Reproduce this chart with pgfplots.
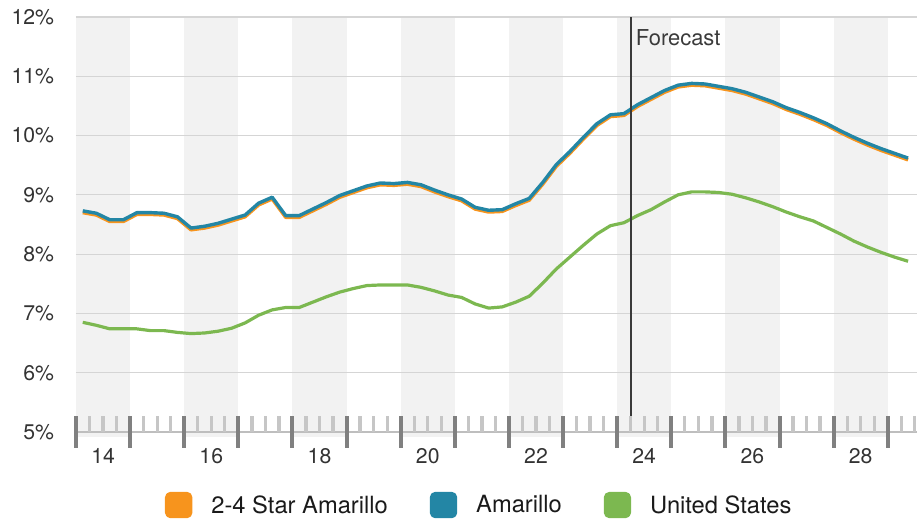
\documentclass[border=0pt]{standalone}
\usepackage{pgfplots}
\pgfplotsset{compat=1.18}
\usepackage{fontspec}
\setmainfont{TeX Gyre Heros}
\definecolor{corange}{HTML}{F7941D}
\definecolor{cblue}{HTML}{2386A5}
\definecolor{cgreen}{HTML}{7CB850}
\definecolor{band}{HTML}{F2F2F2}
\definecolor{gridc}{HTML}{D5D5D5}
\definecolor{basec}{HTML}{BEBEBE}
\definecolor{minc}{HTML}{C6C6C6}
\definecolor{majc}{HTML}{808080}
\definecolor{fcc}{HTML}{3A3A3A}
\definecolor{tickc}{HTML}{333333}
\definecolor{legc}{HTML}{1A1A1A}
\begin{document}
\begin{tikzpicture}
\begin{axis}[
  scale only axis, width=841bp, height=415bp,
  xmin=2014, xmax=2029.54, ymin=5, ymax=12,
  clip=false,
  axis line style={draw=none},
  major tick length=0pt, minor tick length=0pt,
  xtick={2014.5,2016.5,2018.5,2020.5,2022.5,2024.5,2026.5,2028.5},
  xticklabels={14,16,18,20,22,24,26,28},
  ytick={5,6,7,8,9,10,11,12},
  yticklabels={5\%,6\%,7\%,8\%,9\%,10\%,11\%,12\%},
  /pgf/number format/assume math mode=true,
  ticklabel style={font=\fontsize{21.3}{24}\selectfont, text=tickc, inner sep=0pt},
  xticklabel style={anchor=north, yshift=-16bp},
  yticklabel style={anchor=east, xshift=-21.7bp},
  legend style={at={(axis description cs:0.1058,-0.176)}, anchor=west,
    draw=none, fill=none, inner sep=0pt, outer sep=0pt,
    font=\fontsize{23.8}{27}\selectfont, text=legc,
    nodes={inner sep=0pt},
    /tikz/every odd column/.append style={column sep=19bp},
    /tikz/every even column/.append style={column sep=42bp}},
  legend columns=3,
  legend image code/.code={\fill[#1, rounded corners=4bp] (0bp,-11.5bp) rectangle (24bp,11.5bp);},
]
% background bands
\fill[band] (axis cs:2014,4.915) rectangle (axis cs:2015,12);
\fill[band] (axis cs:2016,4.915) rectangle (axis cs:2017,12);
\fill[band] (axis cs:2018,4.915) rectangle (axis cs:2019,12);
\fill[band] (axis cs:2020,4.915) rectangle (axis cs:2021,12);
\fill[band] (axis cs:2022,4.915) rectangle (axis cs:2023,12);
\fill[band] (axis cs:2024,4.915) rectangle (axis cs:2025,12);
\fill[band] (axis cs:2026,4.915) rectangle (axis cs:2027,12);
\fill[band] (axis cs:2028,4.915) rectangle (axis cs:2029,12);
% grid lines
\pgfplotsinvokeforeach{6,7,8,9,10,11,12}{
  \draw[gridc, line width=1.2bp] (axis cs:2014,#1) -- (axis cs:2029.54,#1);
}
\draw[basec, line width=1.2bp] (axis cs:2014,5) -- (axis cs:2029.54,5);
% minor ticks (quarters)
\pgfplotsinvokeforeach{2014.25,2014.5,2014.75,2015.25,2015.5,2015.75,2016.25,2016.5,2016.75,2017.25,2017.5,2017.75,2018.25,2018.5,2018.75,2019.25,2019.5,2019.75,2020.25,2020.5,2020.75,2021.25,2021.5,2021.75,2022.25,2022.5,2022.75,2023.25,2023.5,2023.75,2024.25,2024.5,2024.75,2025.25,2025.5,2025.75,2026.25,2026.5,2026.75,2027.25,2027.5,2027.75,2028.25,2028.5,2028.75,2029.25,2029.5}{
  \draw[minc, line width=3.3bp] (axis cs:#1,5.2696) -- (axis cs:#1,5);
}
% major ticks (years)
\pgfplotsinvokeforeach{2014,2015,2016,2017,2018,2019,2020,2021,2022,2023,2024,2025,2026,2027,2028,2029}{
  \draw[majc, line width=4bp] (axis cs:#1,5.2696) -- (axis cs:#1,4.7304);
}

\addplot[corange, line width=3.4bp, line join=round] coordinates {
(2014.125,8.70)(2014.375,8.66)(2014.625,8.55)(2014.875,8.55)
(2015.125,8.67)(2015.375,8.67)(2015.625,8.66)(2015.875,8.60)
(2016.125,8.41)(2016.375,8.44)(2016.625,8.49)(2016.875,8.56)
(2017.125,8.63)(2017.375,8.83)(2017.625,8.93)(2017.875,8.62)
(2018.125,8.62)(2018.375,8.73)(2018.625,8.84)(2018.875,8.96)
(2019.125,9.04)(2019.375,9.12)(2019.625,9.17)(2019.875,9.16)
(2020.125,9.18)(2020.375,9.14)(2020.625,9.05)(2020.875,8.97)
(2021.125,8.90)(2021.375,8.76)(2021.625,8.71)(2021.875,8.72)
(2022.125,8.82)(2022.375,8.91)(2022.625,9.18)(2022.875,9.48)
(2023.125,9.70)(2023.375,9.94)(2023.625,10.17)(2023.875,10.32)
(2024.125,10.34)(2024.375,10.49)(2024.625,10.61)(2024.875,10.73)
(2025.125,10.82)(2025.375,10.85)(2025.625,10.84)(2025.875,10.80)
(2026.125,10.76)(2026.375,10.70)(2026.625,10.62)(2026.875,10.54)
(2027.125,10.44)(2027.375,10.36)(2027.625,10.27)(2027.875,10.17)
(2028.125,10.05)(2028.375,9.94)(2028.625,9.84)(2028.875,9.75)
(2029.125,9.67)(2029.375,9.59)
};
\addlegendentry{2-4 Star Amarillo}
\addplot[cblue, line width=3.4bp, line join=round] coordinates {
(2014.125,8.73)(2014.375,8.69)(2014.625,8.58)(2014.875,8.58)
(2015.125,8.70)(2015.375,8.70)(2015.625,8.69)(2015.875,8.63)
(2016.125,8.44)(2016.375,8.47)(2016.625,8.52)(2016.875,8.59)
(2017.125,8.66)(2017.375,8.86)(2017.625,8.96)(2017.875,8.65)
(2018.125,8.65)(2018.375,8.76)(2018.625,8.87)(2018.875,8.99)
(2019.125,9.07)(2019.375,9.15)(2019.625,9.20)(2019.875,9.19)
(2020.125,9.21)(2020.375,9.17)(2020.625,9.08)(2020.875,9.00)
(2021.125,8.93)(2021.375,8.79)(2021.625,8.74)(2021.875,8.75)
(2022.125,8.85)(2022.375,8.94)(2022.625,9.21)(2022.875,9.51)
(2023.125,9.73)(2023.375,9.97)(2023.625,10.20)(2023.875,10.35)
(2024.125,10.37)(2024.375,10.52)(2024.625,10.64)(2024.875,10.76)
(2025.125,10.85)(2025.375,10.88)(2025.625,10.87)(2025.875,10.83)
(2026.125,10.79)(2026.375,10.73)(2026.625,10.65)(2026.875,10.57)
(2027.125,10.47)(2027.375,10.39)(2027.625,10.30)(2027.875,10.20)
(2028.125,10.08)(2028.375,9.97)(2028.625,9.87)(2028.875,9.78)
(2029.125,9.70)(2029.375,9.62)
};
\addlegendentry{Amarillo}
\addplot[cgreen, line width=3.2bp, line join=round] coordinates {
(2014.125,6.85)(2014.375,6.80)(2014.625,6.74)(2014.875,6.74)
(2015.125,6.74)(2015.375,6.71)(2015.625,6.71)(2015.875,6.68)
(2016.125,6.66)(2016.375,6.67)(2016.625,6.70)(2016.875,6.75)
(2017.125,6.84)(2017.375,6.97)(2017.625,7.06)(2017.875,7.10)
(2018.125,7.10)(2018.375,7.19)(2018.625,7.28)(2018.875,7.36)
(2019.125,7.42)(2019.375,7.47)(2019.625,7.48)(2019.875,7.48)
(2020.125,7.48)(2020.375,7.44)(2020.625,7.38)(2020.875,7.31)
(2021.125,7.27)(2021.375,7.16)(2021.625,7.09)(2021.875,7.11)
(2022.125,7.19)(2022.375,7.29)(2022.625,7.51)(2022.875,7.75)
(2023.125,7.95)(2023.375,8.15)(2023.625,8.34)(2023.875,8.48)
(2024.125,8.53)(2024.375,8.65)(2024.625,8.75)(2024.875,8.88)
(2025.125,9.00)(2025.375,9.05)(2025.625,9.05)(2025.875,9.04)
(2026.125,9.01)(2026.375,8.95)(2026.625,8.88)(2026.875,8.80)
(2027.125,8.71)(2027.375,8.63)(2027.625,8.56)(2027.875,8.45)
(2028.125,8.34)(2028.375,8.22)(2028.625,8.12)(2028.875,8.03)
(2029.125,7.95)(2029.375,7.88)
};
\addlegendentry{United States}
% forecast marker
\draw[fcc, line width=2bp] (axis cs:2024.25,5.27) -- (axis cs:2024.25,12);
\node[anchor=north west, inner sep=0pt, font=\fontsize{22}{25}\selectfont, text=fcc, xshift=5bp, yshift=-12.3bp] at (axis cs:2024.25,12) {Forecast};
\end{axis}
\pgfresetboundingbox
\path[use as bounding box] (-76bp,-89bp) rectangle (841bp,432bp);
\end{tikzpicture}
\end{document}
